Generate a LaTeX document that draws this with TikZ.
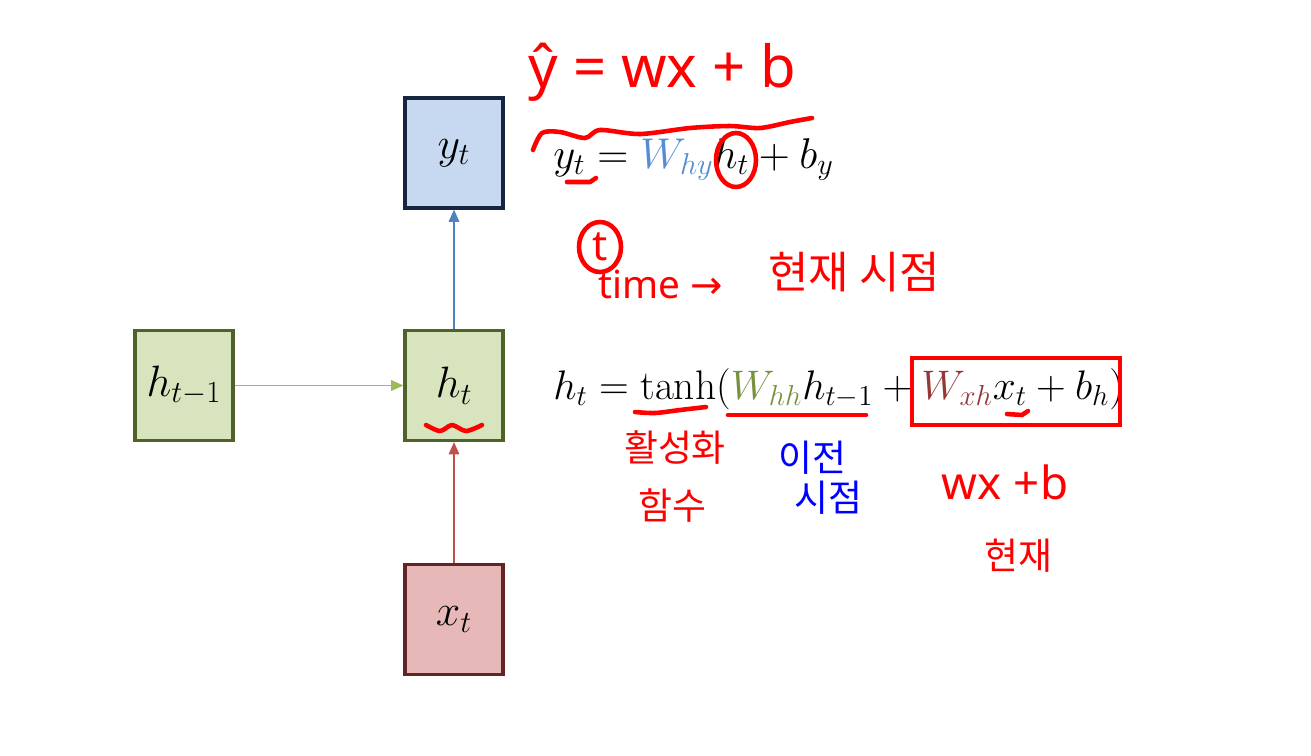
\RequirePackage{fix-cm}
\documentclass[tikz,border=0pt]{standalone}
\usepackage{amsmath, amssymb}
\usepackage{fontspec}
\setsansfont{Noto Sans}
\newfontfamily\hangul{Noto Sans CJK KR}
\newfontfamily\symfont{DejaVu Sans}
\usetikzlibrary{arrows.meta}
\definecolor{cellBlue}{RGB}{198, 217, 240}
\definecolor{edgeBlue}{RGB}{23, 37, 64}
\definecolor{lineBlue}{RGB}{79, 129, 189}
\definecolor{cellGreen}{RGB}{215, 228, 189}
\definecolor{edgeGreen}{RGB}{79, 98, 40}
\definecolor{lineGreen}{RGB}{155, 187, 89}
\definecolor{cellRed}{RGB}{230, 184, 183}
\definecolor{edgeRed}{RGB}{99, 37, 35}
\definecolor{lineRed}{RGB}{192, 80, 77}
\definecolor{wBlue}{RGB}{84, 141, 212}
\definecolor{wGreen}{RGB}{118, 146, 60}
\definecolor{wRed}{RGB}{149, 55, 53}
\definecolor{penRed}{RGB}{255, 0, 0}
\definecolor{penBlue}{RGB}{0, 0, 255}
\tikzset{
  cell/.style={draw, line width=1.8pt, minimum width=1.96cm, minimum height=2.2cm,
    inner sep=0pt, font=\fontsize{25}{29}\selectfont},
  link/.style={line width=0.9pt, -{Triangle[length=7pt, width=6pt]}},
  eq/.style={inner sep=0pt, font=\fontsize{24.5}{29}\selectfont},
  pen/.style={penRed, line width=2.6pt, line cap=round, line join=round},
  scrawl/.style={text=penRed, inner sep=0pt, font=\sffamily\fontsize{33}{37}\selectfont},
  hand/.style={text=penRed, inner sep=0pt, font=\hangul\fontsize{21}{24}\selectfont},
}

\begin{document}
\begin{tikzpicture}[x=0.02cm, y=-0.02cm]
  \useasboundingbox (0,0) rectangle (1311,755);

  % RNN cells
  \node[cell, fill=cellBlue, draw=edgeBlue] (yt) at (454,153) {$y_t$};
  \node[cell, fill=cellGreen, draw=edgeGreen] (hp) at (184,385.5) {$h_{t-1}$};
  \node[cell, fill=cellGreen, draw=edgeGreen] (ht) at (454,385.5) {$h_t$};
  \node[cell, fill=cellRed, draw=edgeRed] (xt) at (454,619.5) {$x_t$};

  \draw[link, lineGreen] (hp) -- (ht);
  \draw[link, lineBlue] (ht) -- (yt);
  \draw[link, lineRed] (xt) -- (ht);

  % equations
  \node[eq, anchor=base west] (eqy) at (553,168)
    {$y_t = {\color{wBlue}W_{hy}}h_t + b_y$};
  \node[eq, anchor=base west, font=\fontsize{23.5}{27}\selectfont] (eqh) at (553,399)
    {$h_t = \tanh({\color{wGreen}W_{hh}}h_{t-1} + {\color{wRed}W_{xh}}x_t + b_h)$};

  % handwritten notes
  \node[scrawl, anchor=west] (lin) at (528,72) {ŷ = wx + b};
  \draw[pen] plot[smooth] coordinates {(533,150) (542,133) (560,132) (585,138)
    (600,130) (640,134) (690,128) (730,126) (760,128) (790,122) (812,118)};
  \draw[pen] (567,182) -- (590,182) -- (596,178);
  \draw[pen] (736,160) ellipse [x radius=20, y radius=27];

  \node[scrawl, font=\sffamily\fontsize{24}{28}\selectfont] (tee) at (600,247) {t};
  \draw[pen] (tee) ellipse [x radius=21, y radius=25];
  \node[scrawl, font=\sffamily\fontsize{22}{26}\selectfont, anchor=west] (time) at (598,284) {time {\symfont →}};
  \node[hand, font=\hangul\fontsize{25}{28}\selectfont, anchor=west] (now) at (768,272) {현재 시점};

  \draw[pen] plot[smooth] coordinates {(426,425) (440,431) (452,425) (466,431) (482,425)};

  \draw[pen] plot[smooth] coordinates {(635,412) (655,413) (680,410) (706,407)};
  \draw[pen] (728,415) -- (866,415);
  \draw[pen] (1007,414) -- (1022,415) -- (1028,411);
  \draw[penRed, line width=2pt] (912,358) rectangle (1120,425);

  \node[hand] (act) at (675,448) {활성화};
  \node[hand] (fun) at (672,506) {함수};
  \node[hand, text=penBlue] (prev) at (812,458) {이전};
  \node[hand, text=penBlue] (step) at (828,498) {시점};

  \node[scrawl, font=\sffamily\fontsize{26}{30}\selectfont] (lin2) at (1005,482) {wx +b};
  \node[hand] (cur) at (1018,556) {현재};
\end{tikzpicture}
\end{document}
